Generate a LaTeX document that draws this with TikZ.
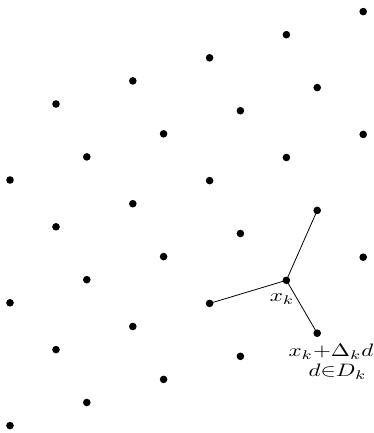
\documentclass[tikz,border=0pt]{standalone}
\begin{document}
\begin{tikzpicture}[x=1pt,y=-1pt,
  pt/.style={circle,fill=black,inner sep=0pt,minimum size=7.6pt},
  edge/.style={line width=0.8pt},
  lbl/.style={inner sep=0pt,anchor=base,xscale=2.3,yscale=1.8,transform shape}]
\useasboundingbox (0,0) rectangle (373,433);
\foreach \k in {0,...,4}{
  \foreach \m in {0,1,2}{
    \node[pt] (e\k\m) at ({10+76.8*\k},{180-23.1*\k+122.8*\m}) {};
    \node[pt] (o\k\m) at ({56+76.8*\k},{104-23.1*\k+122.8*\m}) {};
  }
}
\draw[edge] (o32.center) -- (e41.center);
\draw[edge] (o32.center) -- (o22.center);
\draw[edge] (o32.center) -- (e42.center);
\node[lbl] (xk) at (282,301.7) {$x_k$};
\node[lbl] (l1) at (331,356.7) {$x_k{+}\Delta_k d$};
\node[lbl] (l2) at (337.5,376.7) {$d{\in}D_k$};
\end{tikzpicture}
\end{document}
